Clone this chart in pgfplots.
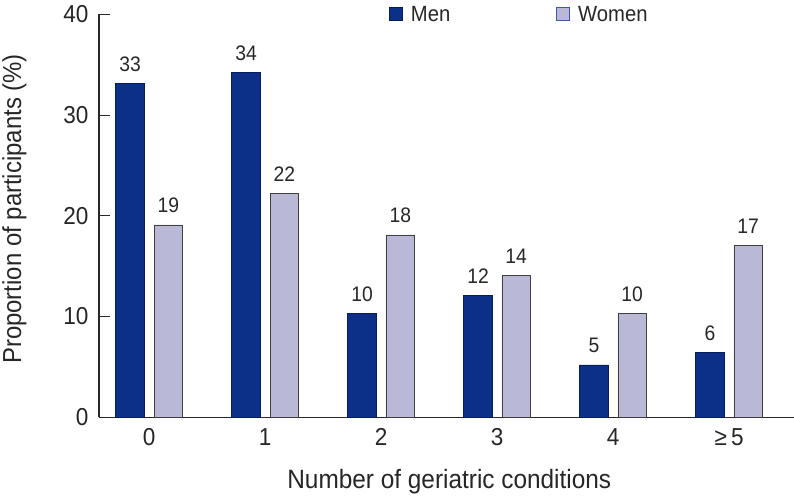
\documentclass[border=0pt]{standalone}
\usepackage{pgfplots}
\pgfplotsset{compat=1.18}
\usepackage{fontspec}
\setmainfont{Liberation Sans}[FakeStretch=0.92]
\definecolor{men}{RGB}{12,48,135}
\definecolor{menedge}{RGB}{8,30,90}
\definecolor{women}{RGB}{185,184,215}
\definecolor{axisgray}{RGB}{40,40,40}
\pgfplotstableread{
x y label
0 33.1 33
1 34.2 34
2 10.3 10
3 12.1 12
4 5.2 5
5 6.4 6
}\men
\pgfplotstableread{
x y label
0 19.1 19
1 22.2 22
2 18.1 18
3 14.1 14
4 10.3 10
5 17.1 17
}\women
\begin{document}
\begin{tikzpicture}
\begin{axis}[
  scale only axis, width=695pt, height=403pt,
  xmin=-0.433, xmax=5.56, ymin=0, ymax=40,
  clip=false,
  axis lines=left,
  axis line style={-, line width=1.5pt, color=axisgray},
  ytick={0,10,20,30,40},
  tick align=inside, major tick length=11pt,
  ytick style={line width=1pt, color=axisgray},
  xtick={0,1,2,3,4,5},
  xticklabels={0,1,2,3,4,{≥\,5}},
  xtick style={draw=none},
  /pgf/number format/assume math mode=true,
  tick label style={font=\fontsize{24.5}{26}\selectfont, color=black!85},
  yticklabel style={xshift=-7pt},
  xticklabel style={yshift=-8pt},
  xlabel={Number of geriatric conditions},
  ylabel={Proportion of participants (\%)},
  xlabel style={at={(axis description cs:0.504,-0.176)}, anchor=base, font=\fontsize{26.5}{28}\selectfont, color=black!85},
  ylabel style={at={(axis description cs:-0.112,0.517)}, anchor=base, font=\fontsize{26}{28}\selectfont, color=black!85},
  legend style={at={(axis description cs:0.413,1.0)}, anchor=west, draw=none, fill=none,
    font=\fontsize{22}{24}\selectfont, text=black!85,
    /tikz/every odd column/.append style={column sep=6pt},
    /tikz/every even column/.append style={column sep=104pt}},
  legend columns=2,
  nodes near coords,
  point meta=explicit symbolic,
]
\addplot[ybar, bar width=0.247, bar shift=-0.165, fill=men, draw=menedge, line width=0.7pt,
  nodes near coords style={font=\fontsize{21}{23}\selectfont, anchor=base, inner sep=0pt, yshift=12pt, xshift=-19.1pt, color=black!85},
  legend image code/.code={\draw[fill=men, draw=menedge, line width=0.7pt] (0pt,-6.5pt) rectangle (13pt,6.5pt);}]
  table[x=x, y=y, meta=label] {\men};
\addlegendentry{Men}
\addplot[ybar, bar width=0.247, bar shift=0.165, fill=women, draw=black!75, line width=0.7pt,
  nodes near coords style={font=\fontsize{21}{23}\selectfont, anchor=base, inner sep=0pt, yshift=12pt, xshift=19.1pt, color=black!85},
  legend image code/.code={\draw[fill=women, draw=men!80, line width=0.9pt] (0pt,-6.5pt) rectangle (13pt,6.5pt);}]
  table[x=x, y=y, meta=label] {\women};
\addlegendentry{Women}
\coordinate (bbll) at (axis description cs:-0.14245,-0.1985);
\coordinate (bbur) at (axis description cs:1,1.0355);
\end{axis}
\pgfresetboundingbox
\path (bbll) rectangle (bbur);
\end{tikzpicture}
\end{document}
